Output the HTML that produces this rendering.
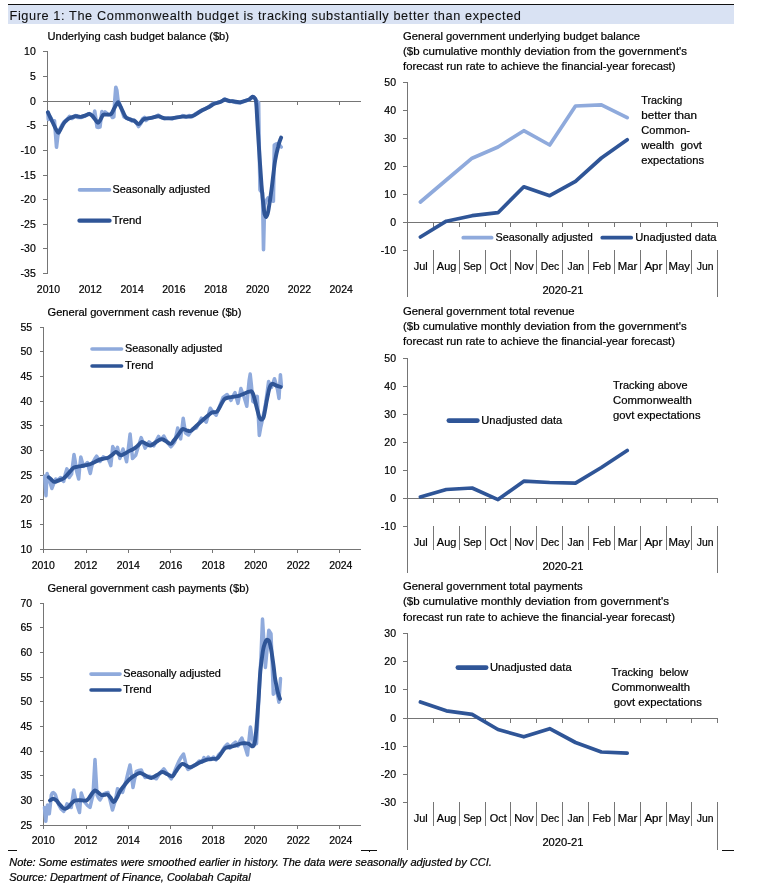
<!DOCTYPE html>
<html lang="en">
<head>
<meta charset="utf-8">
<title>Figure 1: The Commonwealth budget is tracking substantially better than expected</title>
<style>
html,body{margin:0;padding:0;background:#fff;}
body{width:759px;height:891px;overflow:hidden;}
svg{display:block;font-family:"Liberation Sans",sans-serif;}
svg line{shape-rendering:crispEdges;}
svg text{stroke:#000;stroke-width:0.2px;}
</style>
</head>
<body>
<svg width="759" height="891" viewBox="0 0 759 891">
<rect x="0" y="0" width="759" height="891" fill="#ffffff"/>
<rect x="8" y="4" width="726" height="20" fill="#D9E2F3"/>
<rect x="8" y="4" width="726" height="1" fill="#111"/>
<text x="9.5" y="19.8" font-size="12" text-anchor="start" fill="#111" textLength="512.0" lengthAdjust="spacingAndGlyphs" style="letter-spacing:0.55px;stroke-width:0.08px">Figure 1: The Commonwealth budget is tracking substantially better than expected</text>
<line x1="47.50" y1="52.00" x2="47.50" y2="274.00" stroke="#757575" stroke-width="1"/>
<line x1="43.00" y1="51.50" x2="48.00" y2="51.50" stroke="#757575" stroke-width="1"/>
<text x="35.8" y="55.1" font-size="10.5" text-anchor="end" fill="#000">10</text>
<line x1="43.00" y1="76.50" x2="48.00" y2="76.50" stroke="#757575" stroke-width="1"/>
<text x="35.8" y="80.1" font-size="10.5" text-anchor="end" fill="#000">5</text>
<line x1="43.00" y1="101.50" x2="48.00" y2="101.50" stroke="#757575" stroke-width="1"/>
<text x="35.8" y="105.1" font-size="10.5" text-anchor="end" fill="#000">0</text>
<line x1="43.00" y1="125.50" x2="48.00" y2="125.50" stroke="#757575" stroke-width="1"/>
<text x="35.8" y="129.1" font-size="10.5" text-anchor="end" fill="#000">-5</text>
<line x1="43.00" y1="150.50" x2="48.00" y2="150.50" stroke="#757575" stroke-width="1"/>
<text x="35.8" y="154.1" font-size="10.5" text-anchor="end" fill="#000">-10</text>
<line x1="43.00" y1="175.50" x2="48.00" y2="175.50" stroke="#757575" stroke-width="1"/>
<text x="35.8" y="179.1" font-size="10.5" text-anchor="end" fill="#000">-15</text>
<line x1="43.00" y1="199.50" x2="48.00" y2="199.50" stroke="#757575" stroke-width="1"/>
<text x="35.8" y="203.1" font-size="10.5" text-anchor="end" fill="#000">-20</text>
<line x1="43.00" y1="224.50" x2="48.00" y2="224.50" stroke="#757575" stroke-width="1"/>
<text x="35.8" y="228.1" font-size="10.5" text-anchor="end" fill="#000">-25</text>
<line x1="43.00" y1="248.50" x2="48.00" y2="248.50" stroke="#757575" stroke-width="1"/>
<text x="35.8" y="252.1" font-size="10.5" text-anchor="end" fill="#000">-30</text>
<line x1="43.00" y1="273.50" x2="48.00" y2="273.50" stroke="#757575" stroke-width="1"/>
<text x="35.8" y="277.1" font-size="10.5" text-anchor="end" fill="#000">-35</text>
<line x1="48.00" y1="101.50" x2="361.00" y2="101.50" stroke="#757575" stroke-width="1"/>
<line x1="47.50" y1="101.00" x2="47.50" y2="105.00" stroke="#757575" stroke-width="1"/>
<text x="48.5" y="292.6" font-size="10.5" text-anchor="middle" fill="#000" textLength="23.3" lengthAdjust="spacingAndGlyphs">2010</text>
<line x1="89.50" y1="101.00" x2="89.50" y2="105.00" stroke="#757575" stroke-width="1"/>
<text x="90.3" y="292.6" font-size="10.5" text-anchor="middle" fill="#000" textLength="23.3" lengthAdjust="spacingAndGlyphs">2012</text>
<line x1="130.50" y1="101.00" x2="130.50" y2="105.00" stroke="#757575" stroke-width="1"/>
<text x="132.1" y="292.6" font-size="10.5" text-anchor="middle" fill="#000" textLength="23.3" lengthAdjust="spacingAndGlyphs">2014</text>
<line x1="172.50" y1="101.00" x2="172.50" y2="105.00" stroke="#757575" stroke-width="1"/>
<text x="173.9" y="292.6" font-size="10.5" text-anchor="middle" fill="#000" textLength="23.3" lengthAdjust="spacingAndGlyphs">2016</text>
<line x1="214.50" y1="101.00" x2="214.50" y2="105.00" stroke="#757575" stroke-width="1"/>
<text x="215.8" y="292.6" font-size="10.5" text-anchor="middle" fill="#000" textLength="23.3" lengthAdjust="spacingAndGlyphs">2018</text>
<line x1="256.50" y1="101.00" x2="256.50" y2="105.00" stroke="#757575" stroke-width="1"/>
<text x="257.6" y="292.6" font-size="10.5" text-anchor="middle" fill="#000" textLength="23.3" lengthAdjust="spacingAndGlyphs">2020</text>
<line x1="297.50" y1="101.00" x2="297.50" y2="105.00" stroke="#757575" stroke-width="1"/>
<text x="299.4" y="292.6" font-size="10.5" text-anchor="middle" fill="#000" textLength="23.3" lengthAdjust="spacingAndGlyphs">2022</text>
<line x1="339.50" y1="101.00" x2="339.50" y2="105.00" stroke="#757575" stroke-width="1"/>
<text x="341.2" y="292.6" font-size="10.5" text-anchor="middle" fill="#000" textLength="23.3" lengthAdjust="spacingAndGlyphs">2024</text>
<text x="47.5" y="40.0" font-size="10.3" text-anchor="start" fill="#000" textLength="181.5" lengthAdjust="spacingAndGlyphs">Underlying cash budget balance ($b)</text>
<path d="M79.5,189.9 H109.5" fill="none" stroke="#8FAADC" stroke-width="3.6" stroke-linecap="round"/>
<path d="M79.5,220.7 H109.5" fill="none" stroke="#2F5597" stroke-width="4.3" stroke-linecap="round"/>
<text x="112.5" y="193.4" font-size="10.3" text-anchor="start" fill="#000" textLength="97.5" lengthAdjust="spacingAndGlyphs">Seasonally adjusted</text>
<text x="112.5" y="223.8" font-size="10.3" text-anchor="start" fill="#000" textLength="29.0" lengthAdjust="spacingAndGlyphs">Trend</text>
<polyline points="47.9,112.5 48.3,119.5 50.5,117.0 52.5,121.0 54.5,120.8 55.6,135.0 56.5,147.2 57.8,136.0 59.5,130.0 62.0,125.0 64.0,122.0 67.0,119.5 69.5,116.5 72.0,118.5 75.6,115.5 78.0,117.5 80.8,117.5 85.0,116.0 89.4,113.5 92.0,116.0 93.6,118.0 94.7,111.0 95.8,118.0 97.0,127.0 98.0,127.4 100.0,127.0 100.8,120.0 101.9,111.6 103.5,113.5 105.0,112.0 108.0,114.5 111.0,115.0 112.5,117.5 113.8,116.9 114.8,100.0 115.8,87.2 116.8,90.0 118.0,100.0 119.5,104.0 121.7,110.0 124.0,117.0 126.0,118.0 128.0,119.0 130.0,119.5 132.0,121.0 134.0,120.0 136.0,122.0 138.6,126.5 140.5,124.0 142.5,119.0 144.5,117.5 146.0,120.5 148.0,118.5 151.0,118.0 155.0,117.0 158.3,115.2 161.0,117.5 164.3,118.5 168.0,118.0 172.2,118.8 176.0,117.5 180.0,117.0 182.7,115.6 186.0,117.2 189.0,115.5 191.9,116.8 196.0,113.5 201.1,110.5 205.0,109.0 209.1,106.5 212.0,104.0 214.3,103.0 217.0,102.8 220.9,101.5 223.0,100.2 224.9,98.8 227.0,100.5 230.0,101.5 232.2,101.0 236.0,102.5 240.3,103.0 244.0,101.0 248.4,100.0 251.0,98.5 252.8,96.6 254.5,98.0 256.5,101.0 258.6,102.5 259.3,150.0 260.0,190.0 262.5,193.0 263.5,249.7 264.6,205.0 266.0,201.0 268.0,198.0 270.0,200.0 273.4,201.2 274.3,145.0 276.0,144.0 278.5,143.6 281.2,147.0" fill="none" stroke="#8FAADC" stroke-width="3.6" stroke-linejoin="round" stroke-linecap="round"/>
<path d="M47.9,112.3 C48.3,113.2 49.6,116.1 50.5,118.0 C51.4,119.9 52.3,121.7 53.2,123.5 C54.1,125.3 54.9,127.5 55.8,129.0 C56.7,130.5 57.5,132.8 58.4,132.7 C59.3,132.6 60.1,130.0 61.0,128.5 C61.9,127.0 62.9,124.8 63.7,123.5 C64.5,122.2 65.2,121.6 66.0,120.8 C66.8,120.0 67.3,119.5 68.3,118.9 C69.3,118.3 70.8,117.7 72.0,117.2 C73.2,116.8 74.6,116.3 75.6,116.2 C76.6,116.1 77.1,116.3 78.0,116.4 C78.9,116.5 79.6,117.0 80.8,116.9 C82.0,116.8 83.6,116.1 85.0,115.6 C86.4,115.1 88.1,113.9 89.4,114.0 C90.7,114.1 91.7,115.2 92.7,116.2 C93.7,117.2 94.4,118.7 95.3,119.8 C96.2,120.9 97.1,122.8 98.0,122.8 C98.9,122.8 99.7,120.8 100.6,119.5 C101.5,118.2 102.1,115.7 103.2,114.9 C104.3,114.1 105.7,114.8 107.0,114.6 C108.3,114.4 109.9,115.1 111.1,114.0 C112.3,112.9 113.3,109.9 114.4,108.0 C115.5,106.1 116.8,102.9 117.7,102.4 C118.6,101.9 119.0,103.9 119.7,105.0 C120.4,106.1 120.7,107.0 121.7,109.0 C122.7,111.0 124.5,115.3 125.6,116.9 C126.7,118.5 127.4,118.2 128.5,118.8 C129.6,119.3 131.2,119.8 132.2,120.2 C133.2,120.6 133.4,120.3 134.5,121.0 C135.6,121.7 137.4,124.0 138.6,124.1 C139.8,124.2 140.5,122.4 141.5,121.5 C142.5,120.6 142.9,119.5 144.5,118.9 C146.1,118.3 148.8,118.4 151.1,117.9 C153.4,117.5 156.1,116.2 158.3,116.2 C160.5,116.2 162.0,117.9 164.3,118.2 C166.6,118.5 169.1,118.5 172.2,118.2 C175.3,117.9 179.4,116.9 182.7,116.6 C186.0,116.3 188.8,117.1 191.9,116.2 C195.0,115.3 198.2,112.5 201.1,111.0 C204.0,109.5 206.9,108.2 209.1,107.0 C211.3,105.8 212.3,104.6 214.3,103.7 C216.3,102.8 219.1,102.4 220.9,101.7 C222.7,101.0 223.4,99.9 224.9,99.8 C226.4,99.7 228.8,100.9 230.0,101.1 C231.2,101.3 230.5,101.0 232.2,101.2 C233.9,101.4 237.6,102.4 240.3,102.2 C243.0,102.0 246.7,100.5 248.4,99.8 C250.2,99.1 250.1,98.5 250.8,98.0 C251.5,97.5 252.2,96.6 252.8,96.6 C253.4,96.6 254.0,97.1 254.6,98.0 C255.2,98.9 255.7,98.4 256.1,102.2 C256.6,106.0 256.9,114.6 257.3,121.0 C257.7,127.4 257.8,129.9 258.5,140.6 C259.2,151.3 260.6,173.2 261.5,185.0 C262.4,196.8 263.5,206.2 264.1,211.3 C264.7,216.4 264.9,214.6 265.2,215.5 C265.5,216.4 265.8,217.2 266.2,217.0 C266.6,216.8 267.0,215.8 267.4,214.5 C267.8,213.2 267.9,213.5 268.6,209.3 C269.3,205.1 270.5,197.2 271.6,189.1 C272.7,181.0 273.9,168.2 275.1,160.8 C276.3,153.4 277.7,148.5 278.7,144.6 C279.7,140.7 280.7,138.8 281.1,137.6" fill="none" stroke="#2F5597" stroke-width="3.9" stroke-linejoin="round" stroke-linecap="round"/>
<line x1="43.50" y1="327.00" x2="43.50" y2="549.00" stroke="#757575" stroke-width="1"/>
<line x1="40.00" y1="327.50" x2="44.00" y2="327.50" stroke="#757575" stroke-width="1"/>
<text x="32.1" y="331.1" font-size="10.5" text-anchor="end" fill="#000">55</text>
<line x1="40.00" y1="351.50" x2="44.00" y2="351.50" stroke="#757575" stroke-width="1"/>
<text x="32.1" y="355.1" font-size="10.5" text-anchor="end" fill="#000">50</text>
<line x1="40.00" y1="376.50" x2="44.00" y2="376.50" stroke="#757575" stroke-width="1"/>
<text x="32.1" y="380.1" font-size="10.5" text-anchor="end" fill="#000">45</text>
<line x1="40.00" y1="401.50" x2="44.00" y2="401.50" stroke="#757575" stroke-width="1"/>
<text x="32.1" y="405.1" font-size="10.5" text-anchor="end" fill="#000">40</text>
<line x1="40.00" y1="425.50" x2="44.00" y2="425.50" stroke="#757575" stroke-width="1"/>
<text x="32.1" y="429.1" font-size="10.5" text-anchor="end" fill="#000">35</text>
<line x1="40.00" y1="450.50" x2="44.00" y2="450.50" stroke="#757575" stroke-width="1"/>
<text x="32.1" y="454.1" font-size="10.5" text-anchor="end" fill="#000">30</text>
<line x1="40.00" y1="475.50" x2="44.00" y2="475.50" stroke="#757575" stroke-width="1"/>
<text x="32.1" y="479.1" font-size="10.5" text-anchor="end" fill="#000">25</text>
<line x1="40.00" y1="499.50" x2="44.00" y2="499.50" stroke="#757575" stroke-width="1"/>
<text x="32.1" y="503.1" font-size="10.5" text-anchor="end" fill="#000">20</text>
<line x1="40.00" y1="524.50" x2="44.00" y2="524.50" stroke="#757575" stroke-width="1"/>
<text x="32.1" y="528.1" font-size="10.5" text-anchor="end" fill="#000">15</text>
<line x1="40.00" y1="549.50" x2="44.00" y2="549.50" stroke="#757575" stroke-width="1"/>
<text x="32.1" y="553.1" font-size="10.5" text-anchor="end" fill="#000">10</text>
<line x1="44.00" y1="549.50" x2="361.00" y2="549.50" stroke="#757575" stroke-width="1"/>
<line x1="43.50" y1="549.00" x2="43.50" y2="553.00" stroke="#757575" stroke-width="1"/>
<text x="43.3" y="568.8" font-size="10.5" text-anchor="middle" fill="#000" textLength="23.3" lengthAdjust="spacingAndGlyphs">2010</text>
<line x1="86.50" y1="549.00" x2="86.50" y2="553.00" stroke="#757575" stroke-width="1"/>
<text x="85.8" y="568.8" font-size="10.5" text-anchor="middle" fill="#000" textLength="23.3" lengthAdjust="spacingAndGlyphs">2012</text>
<line x1="128.50" y1="549.00" x2="128.50" y2="553.00" stroke="#757575" stroke-width="1"/>
<text x="128.3" y="568.8" font-size="10.5" text-anchor="middle" fill="#000" textLength="23.3" lengthAdjust="spacingAndGlyphs">2014</text>
<line x1="170.50" y1="549.00" x2="170.50" y2="553.00" stroke="#757575" stroke-width="1"/>
<text x="170.8" y="568.8" font-size="10.5" text-anchor="middle" fill="#000" textLength="23.3" lengthAdjust="spacingAndGlyphs">2016</text>
<line x1="212.50" y1="549.00" x2="212.50" y2="553.00" stroke="#757575" stroke-width="1"/>
<text x="213.3" y="568.8" font-size="10.5" text-anchor="middle" fill="#000" textLength="23.3" lengthAdjust="spacingAndGlyphs">2018</text>
<line x1="254.50" y1="549.00" x2="254.50" y2="553.00" stroke="#757575" stroke-width="1"/>
<text x="255.8" y="568.8" font-size="10.5" text-anchor="middle" fill="#000" textLength="23.3" lengthAdjust="spacingAndGlyphs">2020</text>
<line x1="297.50" y1="549.00" x2="297.50" y2="553.00" stroke="#757575" stroke-width="1"/>
<text x="298.3" y="568.8" font-size="10.5" text-anchor="middle" fill="#000" textLength="23.3" lengthAdjust="spacingAndGlyphs">2022</text>
<line x1="339.50" y1="549.00" x2="339.50" y2="553.00" stroke="#757575" stroke-width="1"/>
<text x="340.8" y="568.8" font-size="10.5" text-anchor="middle" fill="#000" textLength="23.3" lengthAdjust="spacingAndGlyphs">2024</text>
<text x="47.5" y="316.1" font-size="10.3" text-anchor="start" fill="#000" textLength="194.0" lengthAdjust="spacingAndGlyphs">General government cash revenue ($b)</text>
<path d="M92.0,349.0 H121.6" fill="none" stroke="#8FAADC" stroke-width="3.6" stroke-linecap="round"/>
<path d="M92.0,366.0 H121.6" fill="none" stroke="#2F5597" stroke-width="3.5" stroke-linecap="round"/>
<text x="125.0" y="351.9" font-size="10.3" text-anchor="start" fill="#000" textLength="97.3" lengthAdjust="spacingAndGlyphs">Seasonally adjusted</text>
<text x="125.0" y="369.4" font-size="10.3" text-anchor="start" fill="#000" textLength="28.5" lengthAdjust="spacingAndGlyphs">Trend</text>
<polyline points="44.7,475.9 45.4,488.0 46.0,495.7 46.6,483.0 47.1,473.5 49.0,479.0 51.9,488.5 54.0,483.0 55.8,479.0 58.0,480.0 60.6,477.5 62.2,480.0 63.7,481.4 65.3,474.0 66.9,468.8 68.0,473.0 69.2,477.5 71.6,474.0 72.8,464.0 74.0,454.5 75.2,461.0 76.3,470.0 78.7,479.0 79.8,466.0 80.8,456.9 82.2,462.0 83.5,466.4 87.4,462.5 89.0,469.0 90.3,473.5 91.6,467.0 93.0,462.0 95.0,458.5 96.6,456.1 98.3,459.0 100.0,461.5 103.2,456.9 105.5,458.0 108.0,458.5 109.5,462.0 110.8,465.6 111.8,456.0 112.7,446.6 114.0,449.0 115.6,452.0 117.5,447.4 118.7,453.0 119.8,458.5 121.4,453.5 123.0,449.0 124.8,455.0 126.6,461.7 128.4,448.0 130.1,434.0 131.3,446.0 132.5,458.5 134.0,457.0 135.7,455.3 138.0,447.4 141.2,437.6 143.2,443.0 145.1,448.2 147.0,445.0 149.0,441.9 151.5,444.0 153.8,445.8 156.0,441.0 158.6,436.4 160.5,440.0 162.0,438.5 163.8,436.0 166.0,440.0 167.8,442.9 170.8,446.8 172.8,444.5 174.7,441.9 176.2,435.0 177.7,428.0 179.2,433.5 180.6,438.9 182.0,428.5 183.2,418.2 184.4,426.0 185.6,433.0 188.5,435.0 192.5,429.0 196.4,428.0 199.0,423.0 201.4,418.2 204.0,420.0 206.3,422.1 208.3,415.0 210.3,408.3 213.0,412.0 216.2,415.2 217.8,411.0 219.2,407.3 223.1,397.4 227.1,394.5 229.0,397.5 231.0,400.4 233.0,396.0 235.0,392.5 236.5,398.0 237.9,403.4 239.4,396.0 240.9,388.5 242.4,392.5 243.9,396.4 245.4,401.5 246.8,406.3 248.0,392.0 249.2,380.0 250.2,374.1 251.4,385.0 252.8,401.4 255.7,403.4 257.3,396.4 258.3,416.0 259.3,435.4 260.8,427.0 262.6,419.2 264.2,411.0 265.6,403.4 267.2,392.0 268.6,381.6 270.0,384.5 271.5,387.5 273.0,383.0 274.5,378.7 276.0,384.0 277.5,389.5 279.0,398.4 279.7,386.0 280.4,374.7 281.4,385.6" fill="none" stroke="#8FAADC" stroke-width="3.5" stroke-linejoin="round" stroke-linecap="round"/>
<path d="M48.7,477.2 C49.2,477.6 50.6,479.0 51.5,479.8 C52.4,480.6 53.0,481.8 54.2,481.9 C55.5,482.0 57.4,480.9 59.0,480.3 C60.6,479.7 62.1,479.5 63.7,478.3 C65.3,477.1 66.9,475.1 68.5,473.4 C70.1,471.7 71.8,469.1 73.2,468.0 C74.6,466.9 75.7,467.1 77.0,466.8 C78.3,466.5 79.6,466.4 81.1,466.1 C82.6,465.8 84.2,465.6 85.8,465.2 C87.4,464.8 89.1,464.5 90.6,464.0 C92.0,463.5 93.2,462.8 94.5,462.2 C95.8,461.6 97.1,460.7 98.5,460.1 C99.9,459.5 101.4,459.2 103.0,458.8 C104.6,458.4 106.5,458.3 108.0,457.7 C109.5,457.1 110.7,456.0 112.0,455.0 C113.3,454.0 114.8,452.1 115.9,451.9 C117.0,451.7 117.7,453.3 118.6,453.9 C119.5,454.5 120.3,455.4 121.4,455.3 C122.5,455.2 123.8,454.1 125.0,453.5 C126.2,452.9 127.4,452.0 128.5,451.4 C129.6,450.8 130.6,450.4 131.7,449.9 C132.8,449.4 133.8,449.0 134.9,448.2 C136.0,447.4 137.3,446.1 138.5,445.0 C139.7,443.9 140.7,442.1 142.0,441.9 C143.3,441.7 145.0,443.4 146.4,444.0 C147.8,444.6 149.2,445.8 150.7,445.5 C152.2,445.2 153.9,443.5 155.5,442.5 C157.1,441.5 158.8,440.0 160.0,439.5 C161.2,439.0 161.7,438.9 162.8,439.3 C163.9,439.7 165.5,441.0 166.8,441.8 C168.1,442.6 169.6,444.1 170.8,443.9 C172.0,443.7 172.8,441.8 173.8,440.6 C174.8,439.5 175.7,438.3 176.7,437.0 C177.7,435.7 178.7,434.1 179.7,432.8 C180.7,431.5 181.5,429.4 182.6,429.0 C183.7,428.6 185.2,430.0 186.5,430.3 C187.8,430.6 189.1,431.5 190.5,431.0 C191.9,430.5 193.5,428.5 195.0,427.2 C196.5,425.9 197.7,424.7 199.4,423.1 C201.1,421.5 203.4,419.5 205.4,417.8 C207.4,416.1 209.8,413.7 211.3,412.8 C212.8,411.9 213.2,412.4 214.2,412.2 C215.2,411.9 216.1,412.4 217.2,411.3 C218.3,410.2 219.4,407.5 220.6,405.5 C221.8,403.5 223.1,400.6 224.1,399.4 C225.1,398.2 225.7,398.4 226.5,398.1 C227.3,397.8 227.8,397.6 229.0,397.4 C230.2,397.2 232.3,397.0 234.0,396.7 C235.7,396.4 237.4,396.2 238.9,395.8 C240.4,395.4 241.5,394.8 242.8,394.2 C244.1,393.6 245.7,392.9 246.8,392.5 C247.9,392.1 248.5,391.9 249.3,391.7 C250.1,391.5 251.1,391.0 251.8,391.5 C252.5,392.0 252.8,393.2 253.3,394.5 C253.8,395.8 254.1,397.2 254.7,399.4 C255.3,401.6 256.0,404.9 256.7,407.5 C257.4,410.1 258.2,413.4 258.7,415.2 C259.2,417.0 259.5,417.6 259.9,418.3 C260.3,419.0 260.7,419.5 261.1,419.6 C261.5,419.7 262.0,419.4 262.4,419.0 C262.8,418.6 263.2,418.7 263.6,417.2 C264.1,415.7 264.6,412.6 265.1,410.0 C265.6,407.4 266.1,404.1 266.6,401.4 C267.1,398.7 267.6,396.3 268.1,394.0 C268.6,391.7 269.1,389.0 269.6,387.5 C270.1,386.0 270.5,385.4 271.0,384.8 C271.5,384.2 271.9,383.6 272.5,383.6 C273.1,383.6 273.8,384.3 274.5,384.6 C275.2,384.9 275.4,385.2 276.5,385.6 C277.6,386.0 280.1,386.8 280.8,387.0" fill="none" stroke="#2F5597" stroke-width="3.9" stroke-linejoin="round" stroke-linecap="round"/>
<line x1="43.50" y1="603.00" x2="43.50" y2="825.00" stroke="#757575" stroke-width="1"/>
<line x1="40.00" y1="603.50" x2="44.00" y2="603.50" stroke="#757575" stroke-width="1"/>
<text x="32.1" y="607.1" font-size="10.5" text-anchor="end" fill="#000">70</text>
<line x1="40.00" y1="627.50" x2="44.00" y2="627.50" stroke="#757575" stroke-width="1"/>
<text x="32.1" y="631.1" font-size="10.5" text-anchor="end" fill="#000">65</text>
<line x1="40.00" y1="652.50" x2="44.00" y2="652.50" stroke="#757575" stroke-width="1"/>
<text x="32.1" y="656.1" font-size="10.5" text-anchor="end" fill="#000">60</text>
<line x1="40.00" y1="677.50" x2="44.00" y2="677.50" stroke="#757575" stroke-width="1"/>
<text x="32.1" y="681.1" font-size="10.5" text-anchor="end" fill="#000">55</text>
<line x1="40.00" y1="701.50" x2="44.00" y2="701.50" stroke="#757575" stroke-width="1"/>
<text x="32.1" y="705.1" font-size="10.5" text-anchor="end" fill="#000">50</text>
<line x1="40.00" y1="726.50" x2="44.00" y2="726.50" stroke="#757575" stroke-width="1"/>
<text x="32.1" y="730.1" font-size="10.5" text-anchor="end" fill="#000">45</text>
<line x1="40.00" y1="751.50" x2="44.00" y2="751.50" stroke="#757575" stroke-width="1"/>
<text x="32.1" y="755.1" font-size="10.5" text-anchor="end" fill="#000">40</text>
<line x1="40.00" y1="775.50" x2="44.00" y2="775.50" stroke="#757575" stroke-width="1"/>
<text x="32.1" y="779.1" font-size="10.5" text-anchor="end" fill="#000">35</text>
<line x1="40.00" y1="800.50" x2="44.00" y2="800.50" stroke="#757575" stroke-width="1"/>
<text x="32.1" y="804.1" font-size="10.5" text-anchor="end" fill="#000">30</text>
<line x1="40.00" y1="825.50" x2="44.00" y2="825.50" stroke="#757575" stroke-width="1"/>
<text x="32.1" y="829.1" font-size="10.5" text-anchor="end" fill="#000">25</text>
<line x1="44.00" y1="825.50" x2="361.00" y2="825.50" stroke="#757575" stroke-width="1"/>
<line x1="43.50" y1="825.00" x2="43.50" y2="829.00" stroke="#757575" stroke-width="1"/>
<text x="43.3" y="843.9" font-size="10.5" text-anchor="middle" fill="#000" textLength="23.3" lengthAdjust="spacingAndGlyphs">2010</text>
<line x1="86.50" y1="825.00" x2="86.50" y2="829.00" stroke="#757575" stroke-width="1"/>
<text x="85.8" y="843.9" font-size="10.5" text-anchor="middle" fill="#000" textLength="23.3" lengthAdjust="spacingAndGlyphs">2012</text>
<line x1="128.50" y1="825.00" x2="128.50" y2="829.00" stroke="#757575" stroke-width="1"/>
<text x="128.3" y="843.9" font-size="10.5" text-anchor="middle" fill="#000" textLength="23.3" lengthAdjust="spacingAndGlyphs">2014</text>
<line x1="170.50" y1="825.00" x2="170.50" y2="829.00" stroke="#757575" stroke-width="1"/>
<text x="170.8" y="843.9" font-size="10.5" text-anchor="middle" fill="#000" textLength="23.3" lengthAdjust="spacingAndGlyphs">2016</text>
<line x1="212.50" y1="825.00" x2="212.50" y2="829.00" stroke="#757575" stroke-width="1"/>
<text x="213.3" y="843.9" font-size="10.5" text-anchor="middle" fill="#000" textLength="23.3" lengthAdjust="spacingAndGlyphs">2018</text>
<line x1="254.50" y1="825.00" x2="254.50" y2="829.00" stroke="#757575" stroke-width="1"/>
<text x="255.8" y="843.9" font-size="10.5" text-anchor="middle" fill="#000" textLength="23.3" lengthAdjust="spacingAndGlyphs">2020</text>
<line x1="297.50" y1="825.00" x2="297.50" y2="829.00" stroke="#757575" stroke-width="1"/>
<text x="298.3" y="843.9" font-size="10.5" text-anchor="middle" fill="#000" textLength="23.3" lengthAdjust="spacingAndGlyphs">2022</text>
<line x1="339.50" y1="825.00" x2="339.50" y2="829.00" stroke="#757575" stroke-width="1"/>
<text x="340.8" y="843.9" font-size="10.5" text-anchor="middle" fill="#000" textLength="23.3" lengthAdjust="spacingAndGlyphs">2024</text>
<text x="47.5" y="592.2" font-size="10.3" text-anchor="start" fill="#000" textLength="201.5" lengthAdjust="spacingAndGlyphs">General government cash payments ($b)</text>
<path d="M91.0,674.1 H120.0" fill="none" stroke="#8FAADC" stroke-width="3.6" stroke-linecap="round"/>
<path d="M91.0,689.9 H120.0" fill="none" stroke="#2F5597" stroke-width="3.5" stroke-linecap="round"/>
<text x="123.2" y="677.2" font-size="10.3" text-anchor="start" fill="#000" textLength="97.7" lengthAdjust="spacingAndGlyphs">Seasonally adjusted</text>
<text x="123.2" y="693.1" font-size="10.3" text-anchor="start" fill="#000" textLength="28.5" lengthAdjust="spacingAndGlyphs">Trend</text>
<polyline points="44.5,807.5 45.1,815.0 45.8,821.3 46.7,812.0 47.5,805.0 48.4,809.5 49.3,813.8 50.3,805.0 51.3,795.0 52.3,793.0 53.3,792.5 54.5,793.5 55.5,795.0 57.0,800.0 58.8,805.0 61.0,809.0 63.8,811.3 65.5,808.0 67.0,803.8 69.0,805.8 71.3,807.5 72.6,798.0 73.8,790.0 75.0,796.0 76.3,802.5 78.0,808.0 79.5,812.5 80.4,802.0 81.3,793.0 83.0,798.0 85.0,802.5 87.5,805.5 90.0,807.5 91.5,801.0 93.0,795.0 94.0,777.0 95.0,759.5 96.0,777.0 97.0,795.0 98.5,798.0 100.0,800.0 102.0,796.5 103.8,793.8 106.0,793.0 108.0,792.5 110.3,801.0 112.5,810.0 114.0,805.0 115.5,800.0 116.5,794.0 117.5,788.8 120.0,790.5 122.5,792.5 124.5,786.0 126.3,780.0 128.2,772.0 130.0,765.0 131.5,776.0 133.0,787.5 134.6,779.0 136.3,771.3 138.8,770.5 141.3,770.0 143.0,774.0 145.0,777.5 147.5,777.0 150.0,776.3 153.0,777.5 156.3,778.8 160.0,773.0 163.8,768.8 167.5,774.0 171.3,778.8 174.0,773.0 176.0,768.0 178.8,761.3 181.3,757.0 183.5,754.0 185.0,760.0 186.3,766.3 188.0,769.5 190.5,768.0 193.5,766.0 196.0,764.5 199.2,761.0 202.0,762.0 204.0,757.5 206.0,760.0 208.2,757.0 211.0,759.5 213.5,757.0 216.0,760.0 218.5,755.0 221.5,752.0 225.0,746.5 227.5,744.0 230.0,748.0 233.0,744.0 235.5,742.0 238.0,746.0 240.0,741.0 241.9,738.0 244.0,744.0 246.0,750.0 247.5,755.0 249.0,740.0 250.4,726.9 252.0,737.0 253.5,743.0 256.5,743.7 258.7,701.0 261.0,656.0 262.5,619.1 264.0,643.0 265.4,667.4 267.1,649.0 268.8,630.3 271.0,633.7 272.2,664.0 273.3,694.3 276.6,689.8 278.9,702.2 279.7,690.0 280.5,678.6" fill="none" stroke="#8FAADC" stroke-width="3.5" stroke-linejoin="round" stroke-linecap="round"/>
<path d="M50.0,800.5 C50.3,800.3 51.2,799.5 51.8,799.2 C52.4,798.9 53.0,798.6 53.8,798.8 C54.6,799.0 55.5,799.6 56.5,800.5 C57.5,801.4 58.5,803.1 59.5,804.3 C60.5,805.5 61.6,806.9 62.5,807.6 C63.4,808.4 64.2,808.8 65.0,808.8 C65.8,808.8 66.7,808.4 67.5,807.8 C68.3,807.2 69.2,806.1 70.0,805.2 C70.8,804.3 71.7,803.1 72.5,802.3 C73.3,801.5 73.8,800.9 75.0,800.5 C76.2,800.1 78.1,800.2 80.0,800.2 C81.9,800.2 84.8,800.9 86.3,800.5 C87.8,800.1 88.0,799.2 89.0,798.0 C90.0,796.8 91.0,794.8 92.0,793.5 C93.0,792.2 94.0,790.7 95.0,790.5 C96.0,790.3 97.0,791.5 98.0,792.3 C99.0,793.0 100.2,794.6 101.3,795.0 C102.4,795.4 103.5,795.0 104.5,794.9 C105.5,794.8 106.5,794.1 107.5,794.5 C108.5,794.9 109.5,796.2 110.5,797.5 C111.5,798.8 112.7,802.0 113.8,802.0 C114.9,802.0 116.0,799.3 117.0,797.5 C118.0,795.7 118.7,793.5 120.0,791.3 C121.3,789.1 123.3,786.6 125.0,784.5 C126.7,782.4 128.3,780.3 130.0,778.8 C131.7,777.3 133.3,776.3 135.0,775.3 C136.7,774.3 138.2,773.0 140.0,773.0 C141.8,773.0 143.6,774.7 145.5,775.5 C147.4,776.3 149.4,778.1 151.3,778.0 C153.2,777.9 155.1,776.0 157.0,775.0 C158.9,774.0 160.8,772.1 162.5,772.0 C164.2,771.9 165.8,773.6 167.5,774.3 C169.2,775.0 171.2,776.7 172.5,776.3 C173.8,775.9 174.5,773.3 175.6,771.8 C176.7,770.2 177.9,768.3 179.0,767.0 C180.1,765.7 181.2,764.1 182.4,763.9 C183.6,763.7 185.0,765.0 186.3,765.6 C187.6,766.2 188.8,767.4 190.2,767.3 C191.6,767.2 193.2,766.0 194.7,765.2 C196.2,764.5 197.7,763.5 199.2,762.8 C200.7,762.1 202.2,761.5 203.7,760.9 C205.2,760.3 206.7,759.7 208.2,759.4 C209.7,759.1 211.2,759.1 212.7,758.9 C214.2,758.7 215.8,759.2 217.2,758.3 C218.6,757.4 219.8,755.2 221.1,753.5 C222.4,751.8 223.6,749.3 225.0,748.2 C226.4,747.1 228.0,747.4 229.5,747.0 C231.0,746.6 232.6,746.4 234.0,746.0 C235.4,745.6 236.7,745.0 238.0,744.5 C239.3,744.0 240.7,743.5 241.9,743.3 C243.1,743.1 244.1,743.2 245.2,743.3 C246.3,743.4 247.7,743.4 248.6,743.7 C249.5,744.1 250.1,745.0 250.8,745.4 C251.5,745.8 252.0,746.5 252.6,746.4 C253.2,746.2 253.8,745.7 254.2,744.5 C254.6,743.3 254.9,742.1 255.3,739.2 C255.7,736.3 256.1,731.5 256.5,727.0 C256.9,722.5 257.2,718.1 257.6,712.3 C258.0,706.5 258.6,698.7 259.0,692.0 C259.4,685.3 259.8,677.4 260.3,671.9 C260.8,666.4 261.3,662.8 261.8,659.0 C262.3,655.2 262.7,652.0 263.2,649.4 C263.7,646.8 264.3,644.8 264.9,643.2 C265.5,641.6 266.1,640.5 266.6,640.0 C267.1,639.5 267.6,639.8 268.0,640.0 C268.4,640.2 268.8,640.2 269.3,641.5 C269.8,642.8 270.3,645.1 270.8,647.5 C271.3,649.9 271.7,652.9 272.2,656.1 C272.7,659.4 273.2,663.2 273.7,667.0 C274.2,670.8 274.6,675.4 275.1,678.6 C275.6,681.8 276.1,683.8 276.5,686.0 C276.9,688.2 277.2,690.0 277.8,692.1 C278.4,694.2 279.6,697.7 280.0,698.8" fill="none" stroke="#2F5597" stroke-width="3.9" stroke-linejoin="round" stroke-linecap="round"/>
<line x1="407.50" y1="82.00" x2="407.50" y2="297.00" stroke="#757575" stroke-width="1"/>
<line x1="403.00" y1="82.50" x2="408.00" y2="82.50" stroke="#757575" stroke-width="1"/>
<text x="396.0" y="85.8" font-size="10.5" text-anchor="end" fill="#000">50</text>
<line x1="403.00" y1="110.50" x2="408.00" y2="110.50" stroke="#757575" stroke-width="1"/>
<text x="396.0" y="113.8" font-size="10.5" text-anchor="end" fill="#000">40</text>
<line x1="403.00" y1="138.50" x2="408.00" y2="138.50" stroke="#757575" stroke-width="1"/>
<text x="396.0" y="141.8" font-size="10.5" text-anchor="end" fill="#000">30</text>
<line x1="403.00" y1="166.50" x2="408.00" y2="166.50" stroke="#757575" stroke-width="1"/>
<text x="396.0" y="169.8" font-size="10.5" text-anchor="end" fill="#000">20</text>
<line x1="403.00" y1="194.50" x2="408.00" y2="194.50" stroke="#757575" stroke-width="1"/>
<text x="396.0" y="197.8" font-size="10.5" text-anchor="end" fill="#000">10</text>
<line x1="403.00" y1="222.50" x2="408.00" y2="222.50" stroke="#757575" stroke-width="1"/>
<text x="396.0" y="225.8" font-size="10.5" text-anchor="end" fill="#000">0</text>
<line x1="403.00" y1="250.50" x2="408.00" y2="250.50" stroke="#757575" stroke-width="1"/>
<text x="396.0" y="253.8" font-size="10.5" text-anchor="end" fill="#000">-10</text>
<line x1="408.00" y1="222.50" x2="718.00" y2="222.50" stroke="#757575" stroke-width="1"/>
<line x1="433.50" y1="222.00" x2="433.50" y2="227.00" stroke="#757575" stroke-width="1"/>
<line x1="433.50" y1="250.00" x2="433.50" y2="274.00" stroke="#757575" stroke-width="1"/>
<line x1="459.50" y1="222.00" x2="459.50" y2="227.00" stroke="#757575" stroke-width="1"/>
<line x1="459.50" y1="250.00" x2="459.50" y2="274.00" stroke="#757575" stroke-width="1"/>
<line x1="485.50" y1="222.00" x2="485.50" y2="227.00" stroke="#757575" stroke-width="1"/>
<line x1="485.50" y1="250.00" x2="485.50" y2="274.00" stroke="#757575" stroke-width="1"/>
<line x1="510.50" y1="222.00" x2="510.50" y2="227.00" stroke="#757575" stroke-width="1"/>
<line x1="510.50" y1="250.00" x2="510.50" y2="274.00" stroke="#757575" stroke-width="1"/>
<line x1="536.50" y1="222.00" x2="536.50" y2="227.00" stroke="#757575" stroke-width="1"/>
<line x1="536.50" y1="250.00" x2="536.50" y2="274.00" stroke="#757575" stroke-width="1"/>
<line x1="562.50" y1="222.00" x2="562.50" y2="227.00" stroke="#757575" stroke-width="1"/>
<line x1="562.50" y1="250.00" x2="562.50" y2="274.00" stroke="#757575" stroke-width="1"/>
<line x1="588.50" y1="222.00" x2="588.50" y2="227.00" stroke="#757575" stroke-width="1"/>
<line x1="588.50" y1="250.00" x2="588.50" y2="274.00" stroke="#757575" stroke-width="1"/>
<line x1="614.50" y1="222.00" x2="614.50" y2="227.00" stroke="#757575" stroke-width="1"/>
<line x1="614.50" y1="250.00" x2="614.50" y2="274.00" stroke="#757575" stroke-width="1"/>
<line x1="640.50" y1="222.00" x2="640.50" y2="227.00" stroke="#757575" stroke-width="1"/>
<line x1="640.50" y1="250.00" x2="640.50" y2="274.00" stroke="#757575" stroke-width="1"/>
<line x1="666.50" y1="222.00" x2="666.50" y2="227.00" stroke="#757575" stroke-width="1"/>
<line x1="666.50" y1="250.00" x2="666.50" y2="274.00" stroke="#757575" stroke-width="1"/>
<line x1="691.50" y1="222.00" x2="691.50" y2="227.00" stroke="#757575" stroke-width="1"/>
<line x1="691.50" y1="250.00" x2="691.50" y2="274.00" stroke="#757575" stroke-width="1"/>
<line x1="717.50" y1="222.00" x2="717.50" y2="227.00" stroke="#757575" stroke-width="1"/>
<line x1="717.50" y1="250.00" x2="717.50" y2="297.00" stroke="#757575" stroke-width="1"/>
<text x="420.7" y="269.6" font-size="10.3" text-anchor="middle" fill="#000" textLength="14.0" lengthAdjust="spacingAndGlyphs">Jul</text>
<text x="446.6" y="269.6" font-size="10.3" text-anchor="middle" fill="#000" textLength="19.5" lengthAdjust="spacingAndGlyphs">Aug</text>
<text x="472.4" y="269.6" font-size="10.3" text-anchor="middle" fill="#000" textLength="18.5" lengthAdjust="spacingAndGlyphs">Sep</text>
<text x="498.3" y="269.6" font-size="10.3" text-anchor="middle" fill="#000" textLength="17.0" lengthAdjust="spacingAndGlyphs">Oct</text>
<text x="524.1" y="269.6" font-size="10.3" text-anchor="middle" fill="#000" textLength="19.5" lengthAdjust="spacingAndGlyphs">Nov</text>
<text x="550.0" y="269.6" font-size="10.3" text-anchor="middle" fill="#000" textLength="18.5" lengthAdjust="spacingAndGlyphs">Dec</text>
<text x="575.8" y="269.6" font-size="10.3" text-anchor="middle" fill="#000" textLength="16.5" lengthAdjust="spacingAndGlyphs">Jan</text>
<text x="601.7" y="269.6" font-size="10.3" text-anchor="middle" fill="#000" textLength="18.5" lengthAdjust="spacingAndGlyphs">Feb</text>
<text x="627.5" y="269.6" font-size="10.3" text-anchor="middle" fill="#000" textLength="19.5" lengthAdjust="spacingAndGlyphs">Mar</text>
<text x="653.4" y="269.6" font-size="10.3" text-anchor="middle" fill="#000" textLength="18.0" lengthAdjust="spacingAndGlyphs">Apr</text>
<text x="679.2" y="269.6" font-size="10.3" text-anchor="middle" fill="#000" textLength="21.5" lengthAdjust="spacingAndGlyphs">May</text>
<text x="705.1" y="269.6" font-size="10.3" text-anchor="middle" fill="#000" textLength="16.7" lengthAdjust="spacingAndGlyphs">Jun</text>
<text x="562.9" y="293.8" font-size="10.5" text-anchor="middle" fill="#000" textLength="41.0" lengthAdjust="spacingAndGlyphs">2020-21</text>
<text x="403.0" y="40.3" font-size="10.3" text-anchor="start" fill="#000" textLength="237.0" lengthAdjust="spacingAndGlyphs">General government underlying budget balance</text>
<text x="403.0" y="55.2" font-size="10.3" text-anchor="start" fill="#000" textLength="284.0" lengthAdjust="spacingAndGlyphs">($b cumulative monthly deviation from the government's</text>
<text x="403.0" y="70.0" font-size="10.3" text-anchor="start" fill="#000" textLength="272.5" lengthAdjust="spacingAndGlyphs">forecast run rate to achieve the financial-year forecast)</text>
<polyline points="420.4,202.0 446.3,180.0 472.1,158.2 498.0,147.0 523.8,130.7 549.7,145.0 575.5,106.0 601.4,104.8 627.2,117.6" fill="none" stroke="#8FAADC" stroke-width="3.7" stroke-linejoin="round" stroke-linecap="round"/>
<polyline points="420.4,237.0 446.3,221.2 472.1,215.7 498.0,212.7 523.8,186.8 549.7,195.7 575.5,181.3 601.4,158.0 627.2,139.7" fill="none" stroke="#2F5597" stroke-width="3.7" stroke-linejoin="round" stroke-linecap="round"/>
<path d="M463.3,237.7 H491.6" fill="none" stroke="#8FAADC" stroke-width="3.8" stroke-linecap="round"/>
<text x="495.5" y="241.0" font-size="10.3" text-anchor="start" fill="#000" textLength="97.3" lengthAdjust="spacingAndGlyphs">Seasonally adjusted</text>
<path d="M602.3,237.7 H631.2" fill="none" stroke="#2F5597" stroke-width="3.8" stroke-linecap="round"/>
<text x="635.2" y="241.0" font-size="10.3" text-anchor="start" fill="#000" textLength="81.3" lengthAdjust="spacingAndGlyphs">Unadjusted data</text>
<text x="641.3" y="104.2" font-size="10.3" text-anchor="start" fill="#000" textLength="41.0" lengthAdjust="spacingAndGlyphs">Tracking</text>
<text x="641.3" y="119.2" font-size="10.3" text-anchor="start" fill="#000" textLength="55.7" lengthAdjust="spacingAndGlyphs">better than</text>
<text x="641.3" y="134.2" font-size="10.3" text-anchor="start" fill="#000" textLength="48.7" lengthAdjust="spacingAndGlyphs">Common-</text>
<text x="641.3" y="149.2" font-size="10.3" text-anchor="start" fill="#000" textLength="60.7" lengthAdjust="spacingAndGlyphs">wealth  govt</text>
<text x="641.3" y="164.0" font-size="10.3" text-anchor="start" fill="#000" textLength="62.7" lengthAdjust="spacingAndGlyphs">expectations</text>
<line x1="407.50" y1="359.00" x2="407.50" y2="573.00" stroke="#757575" stroke-width="1"/>
<line x1="403.00" y1="358.50" x2="408.00" y2="358.50" stroke="#757575" stroke-width="1"/>
<text x="396.0" y="361.8" font-size="10.5" text-anchor="end" fill="#000">50</text>
<line x1="403.00" y1="386.50" x2="408.00" y2="386.50" stroke="#757575" stroke-width="1"/>
<text x="396.0" y="389.8" font-size="10.5" text-anchor="end" fill="#000">40</text>
<line x1="403.00" y1="414.50" x2="408.00" y2="414.50" stroke="#757575" stroke-width="1"/>
<text x="396.0" y="417.8" font-size="10.5" text-anchor="end" fill="#000">30</text>
<line x1="403.00" y1="442.50" x2="408.00" y2="442.50" stroke="#757575" stroke-width="1"/>
<text x="396.0" y="445.8" font-size="10.5" text-anchor="end" fill="#000">20</text>
<line x1="403.00" y1="470.50" x2="408.00" y2="470.50" stroke="#757575" stroke-width="1"/>
<text x="396.0" y="473.8" font-size="10.5" text-anchor="end" fill="#000">10</text>
<line x1="403.00" y1="498.50" x2="408.00" y2="498.50" stroke="#757575" stroke-width="1"/>
<text x="396.0" y="501.8" font-size="10.5" text-anchor="end" fill="#000">0</text>
<line x1="403.00" y1="526.50" x2="408.00" y2="526.50" stroke="#757575" stroke-width="1"/>
<text x="396.0" y="529.8" font-size="10.5" text-anchor="end" fill="#000">-10</text>
<line x1="408.00" y1="498.50" x2="718.00" y2="498.50" stroke="#757575" stroke-width="1"/>
<line x1="433.50" y1="498.00" x2="433.50" y2="503.00" stroke="#757575" stroke-width="1"/>
<line x1="433.50" y1="526.00" x2="433.50" y2="550.00" stroke="#757575" stroke-width="1"/>
<line x1="459.50" y1="498.00" x2="459.50" y2="503.00" stroke="#757575" stroke-width="1"/>
<line x1="459.50" y1="526.00" x2="459.50" y2="550.00" stroke="#757575" stroke-width="1"/>
<line x1="485.50" y1="498.00" x2="485.50" y2="503.00" stroke="#757575" stroke-width="1"/>
<line x1="485.50" y1="526.00" x2="485.50" y2="550.00" stroke="#757575" stroke-width="1"/>
<line x1="510.50" y1="498.00" x2="510.50" y2="503.00" stroke="#757575" stroke-width="1"/>
<line x1="510.50" y1="526.00" x2="510.50" y2="550.00" stroke="#757575" stroke-width="1"/>
<line x1="536.50" y1="498.00" x2="536.50" y2="503.00" stroke="#757575" stroke-width="1"/>
<line x1="536.50" y1="526.00" x2="536.50" y2="550.00" stroke="#757575" stroke-width="1"/>
<line x1="562.50" y1="498.00" x2="562.50" y2="503.00" stroke="#757575" stroke-width="1"/>
<line x1="562.50" y1="526.00" x2="562.50" y2="550.00" stroke="#757575" stroke-width="1"/>
<line x1="588.50" y1="498.00" x2="588.50" y2="503.00" stroke="#757575" stroke-width="1"/>
<line x1="588.50" y1="526.00" x2="588.50" y2="550.00" stroke="#757575" stroke-width="1"/>
<line x1="614.50" y1="498.00" x2="614.50" y2="503.00" stroke="#757575" stroke-width="1"/>
<line x1="614.50" y1="526.00" x2="614.50" y2="550.00" stroke="#757575" stroke-width="1"/>
<line x1="640.50" y1="498.00" x2="640.50" y2="503.00" stroke="#757575" stroke-width="1"/>
<line x1="640.50" y1="526.00" x2="640.50" y2="550.00" stroke="#757575" stroke-width="1"/>
<line x1="666.50" y1="498.00" x2="666.50" y2="503.00" stroke="#757575" stroke-width="1"/>
<line x1="666.50" y1="526.00" x2="666.50" y2="550.00" stroke="#757575" stroke-width="1"/>
<line x1="691.50" y1="498.00" x2="691.50" y2="503.00" stroke="#757575" stroke-width="1"/>
<line x1="691.50" y1="526.00" x2="691.50" y2="550.00" stroke="#757575" stroke-width="1"/>
<line x1="717.50" y1="498.00" x2="717.50" y2="503.00" stroke="#757575" stroke-width="1"/>
<line x1="717.50" y1="526.00" x2="717.50" y2="573.00" stroke="#757575" stroke-width="1"/>
<text x="420.7" y="546.3" font-size="10.3" text-anchor="middle" fill="#000" textLength="14.0" lengthAdjust="spacingAndGlyphs">Jul</text>
<text x="446.6" y="546.3" font-size="10.3" text-anchor="middle" fill="#000" textLength="19.5" lengthAdjust="spacingAndGlyphs">Aug</text>
<text x="472.4" y="546.3" font-size="10.3" text-anchor="middle" fill="#000" textLength="18.5" lengthAdjust="spacingAndGlyphs">Sep</text>
<text x="498.3" y="546.3" font-size="10.3" text-anchor="middle" fill="#000" textLength="17.0" lengthAdjust="spacingAndGlyphs">Oct</text>
<text x="524.1" y="546.3" font-size="10.3" text-anchor="middle" fill="#000" textLength="19.5" lengthAdjust="spacingAndGlyphs">Nov</text>
<text x="550.0" y="546.3" font-size="10.3" text-anchor="middle" fill="#000" textLength="18.5" lengthAdjust="spacingAndGlyphs">Dec</text>
<text x="575.8" y="546.3" font-size="10.3" text-anchor="middle" fill="#000" textLength="16.5" lengthAdjust="spacingAndGlyphs">Jan</text>
<text x="601.7" y="546.3" font-size="10.3" text-anchor="middle" fill="#000" textLength="18.5" lengthAdjust="spacingAndGlyphs">Feb</text>
<text x="627.5" y="546.3" font-size="10.3" text-anchor="middle" fill="#000" textLength="19.5" lengthAdjust="spacingAndGlyphs">Mar</text>
<text x="653.4" y="546.3" font-size="10.3" text-anchor="middle" fill="#000" textLength="18.0" lengthAdjust="spacingAndGlyphs">Apr</text>
<text x="679.2" y="546.3" font-size="10.3" text-anchor="middle" fill="#000" textLength="21.5" lengthAdjust="spacingAndGlyphs">May</text>
<text x="705.1" y="546.3" font-size="10.3" text-anchor="middle" fill="#000" textLength="16.7" lengthAdjust="spacingAndGlyphs">Jun</text>
<text x="562.9" y="569.6" font-size="10.5" text-anchor="middle" fill="#000" textLength="41.0" lengthAdjust="spacingAndGlyphs">2020-21</text>
<text x="403.0" y="315.3" font-size="10.3" text-anchor="start" fill="#000" textLength="171.6" lengthAdjust="spacingAndGlyphs">General government total revenue</text>
<text x="403.0" y="330.2" font-size="10.3" text-anchor="start" fill="#000" textLength="283.7" lengthAdjust="spacingAndGlyphs">($b cumulative monthly deviation from the government's</text>
<text x="403.0" y="345.2" font-size="10.3" text-anchor="start" fill="#000" textLength="272.0" lengthAdjust="spacingAndGlyphs">forecast run rate to achieve the financial-year forecast)</text>
<polyline points="420.4,497.0 446.3,489.5 472.1,488.0 498.0,499.6 523.8,481.2 549.7,482.5 575.5,483.2 601.4,467.5 627.2,450.5" fill="none" stroke="#2F5597" stroke-width="3.7" stroke-linejoin="round" stroke-linecap="round"/>
<path d="M448.8,420.6 H477.4" fill="none" stroke="#2F5597" stroke-width="4.6" stroke-linecap="round"/>
<text x="481.3" y="424.0" font-size="10.3" text-anchor="start" fill="#000" textLength="81.0" lengthAdjust="spacingAndGlyphs">Unadjusted data</text>
<text x="613.0" y="388.8" font-size="10.3" text-anchor="start" fill="#000" textLength="74.5" lengthAdjust="spacingAndGlyphs">Tracking above</text>
<text x="613.0" y="403.8" font-size="10.3" text-anchor="start" fill="#000" textLength="78.7" lengthAdjust="spacingAndGlyphs">Commonwealth</text>
<text x="613.0" y="418.8" font-size="10.3" text-anchor="start" fill="#000" textLength="87.5" lengthAdjust="spacingAndGlyphs">govt expectations</text>
<line x1="407.50" y1="634.00" x2="407.50" y2="850.00" stroke="#757575" stroke-width="1"/>
<line x1="403.00" y1="633.50" x2="408.00" y2="633.50" stroke="#757575" stroke-width="1"/>
<text x="396.0" y="636.8" font-size="10.5" text-anchor="end" fill="#000">30</text>
<line x1="403.00" y1="661.50" x2="408.00" y2="661.50" stroke="#757575" stroke-width="1"/>
<text x="396.0" y="664.8" font-size="10.5" text-anchor="end" fill="#000">20</text>
<line x1="403.00" y1="689.50" x2="408.00" y2="689.50" stroke="#757575" stroke-width="1"/>
<text x="396.0" y="692.8" font-size="10.5" text-anchor="end" fill="#000">10</text>
<line x1="403.00" y1="718.50" x2="408.00" y2="718.50" stroke="#757575" stroke-width="1"/>
<text x="396.0" y="721.8" font-size="10.5" text-anchor="end" fill="#000">0</text>
<line x1="403.00" y1="746.50" x2="408.00" y2="746.50" stroke="#757575" stroke-width="1"/>
<text x="396.0" y="749.8" font-size="10.5" text-anchor="end" fill="#000">-10</text>
<line x1="403.00" y1="774.50" x2="408.00" y2="774.50" stroke="#757575" stroke-width="1"/>
<text x="396.0" y="777.8" font-size="10.5" text-anchor="end" fill="#000">-20</text>
<line x1="403.00" y1="802.50" x2="408.00" y2="802.50" stroke="#757575" stroke-width="1"/>
<text x="396.0" y="805.8" font-size="10.5" text-anchor="end" fill="#000">-30</text>
<line x1="408.00" y1="718.50" x2="718.00" y2="718.50" stroke="#757575" stroke-width="1"/>
<line x1="433.50" y1="718.00" x2="433.50" y2="723.00" stroke="#757575" stroke-width="1"/>
<line x1="433.50" y1="802.00" x2="433.50" y2="826.00" stroke="#757575" stroke-width="1"/>
<line x1="459.50" y1="718.00" x2="459.50" y2="723.00" stroke="#757575" stroke-width="1"/>
<line x1="459.50" y1="802.00" x2="459.50" y2="826.00" stroke="#757575" stroke-width="1"/>
<line x1="485.50" y1="718.00" x2="485.50" y2="723.00" stroke="#757575" stroke-width="1"/>
<line x1="485.50" y1="802.00" x2="485.50" y2="826.00" stroke="#757575" stroke-width="1"/>
<line x1="510.50" y1="718.00" x2="510.50" y2="723.00" stroke="#757575" stroke-width="1"/>
<line x1="510.50" y1="802.00" x2="510.50" y2="826.00" stroke="#757575" stroke-width="1"/>
<line x1="536.50" y1="718.00" x2="536.50" y2="723.00" stroke="#757575" stroke-width="1"/>
<line x1="536.50" y1="802.00" x2="536.50" y2="826.00" stroke="#757575" stroke-width="1"/>
<line x1="562.50" y1="718.00" x2="562.50" y2="723.00" stroke="#757575" stroke-width="1"/>
<line x1="562.50" y1="802.00" x2="562.50" y2="826.00" stroke="#757575" stroke-width="1"/>
<line x1="588.50" y1="718.00" x2="588.50" y2="723.00" stroke="#757575" stroke-width="1"/>
<line x1="588.50" y1="802.00" x2="588.50" y2="826.00" stroke="#757575" stroke-width="1"/>
<line x1="614.50" y1="718.00" x2="614.50" y2="723.00" stroke="#757575" stroke-width="1"/>
<line x1="614.50" y1="802.00" x2="614.50" y2="826.00" stroke="#757575" stroke-width="1"/>
<line x1="640.50" y1="718.00" x2="640.50" y2="723.00" stroke="#757575" stroke-width="1"/>
<line x1="640.50" y1="802.00" x2="640.50" y2="826.00" stroke="#757575" stroke-width="1"/>
<line x1="666.50" y1="718.00" x2="666.50" y2="723.00" stroke="#757575" stroke-width="1"/>
<line x1="666.50" y1="802.00" x2="666.50" y2="826.00" stroke="#757575" stroke-width="1"/>
<line x1="691.50" y1="718.00" x2="691.50" y2="723.00" stroke="#757575" stroke-width="1"/>
<line x1="691.50" y1="802.00" x2="691.50" y2="826.00" stroke="#757575" stroke-width="1"/>
<line x1="717.50" y1="718.00" x2="717.50" y2="723.00" stroke="#757575" stroke-width="1"/>
<line x1="717.50" y1="802.00" x2="717.50" y2="850.00" stroke="#757575" stroke-width="1"/>
<text x="420.7" y="821.8" font-size="10.3" text-anchor="middle" fill="#000" textLength="14.0" lengthAdjust="spacingAndGlyphs">Jul</text>
<text x="446.6" y="821.8" font-size="10.3" text-anchor="middle" fill="#000" textLength="19.5" lengthAdjust="spacingAndGlyphs">Aug</text>
<text x="472.4" y="821.8" font-size="10.3" text-anchor="middle" fill="#000" textLength="18.5" lengthAdjust="spacingAndGlyphs">Sep</text>
<text x="498.3" y="821.8" font-size="10.3" text-anchor="middle" fill="#000" textLength="17.0" lengthAdjust="spacingAndGlyphs">Oct</text>
<text x="524.1" y="821.8" font-size="10.3" text-anchor="middle" fill="#000" textLength="19.5" lengthAdjust="spacingAndGlyphs">Nov</text>
<text x="550.0" y="821.8" font-size="10.3" text-anchor="middle" fill="#000" textLength="18.5" lengthAdjust="spacingAndGlyphs">Dec</text>
<text x="575.8" y="821.8" font-size="10.3" text-anchor="middle" fill="#000" textLength="16.5" lengthAdjust="spacingAndGlyphs">Jan</text>
<text x="601.7" y="821.8" font-size="10.3" text-anchor="middle" fill="#000" textLength="18.5" lengthAdjust="spacingAndGlyphs">Feb</text>
<text x="627.5" y="821.8" font-size="10.3" text-anchor="middle" fill="#000" textLength="19.5" lengthAdjust="spacingAndGlyphs">Mar</text>
<text x="653.4" y="821.8" font-size="10.3" text-anchor="middle" fill="#000" textLength="18.0" lengthAdjust="spacingAndGlyphs">Apr</text>
<text x="679.2" y="821.8" font-size="10.3" text-anchor="middle" fill="#000" textLength="21.5" lengthAdjust="spacingAndGlyphs">May</text>
<text x="705.1" y="821.8" font-size="10.3" text-anchor="middle" fill="#000" textLength="16.7" lengthAdjust="spacingAndGlyphs">Jun</text>
<text x="562.9" y="845.6" font-size="10.5" text-anchor="middle" fill="#000" textLength="41.0" lengthAdjust="spacingAndGlyphs">2020-21</text>
<text x="403.0" y="590.3" font-size="10.3" text-anchor="start" fill="#000" textLength="179.7" lengthAdjust="spacingAndGlyphs">General government total payments</text>
<text x="403.0" y="605.2" font-size="10.3" text-anchor="start" fill="#000" textLength="266.0" lengthAdjust="spacingAndGlyphs">($b cumulative monthly deviation from government's</text>
<text x="403.0" y="620.5" font-size="10.3" text-anchor="start" fill="#000" textLength="272.0" lengthAdjust="spacingAndGlyphs">forecast run rate to achieve the financial-year forecast)</text>
<polyline points="420.4,702.0 446.3,710.8 472.1,714.4 498.0,729.5 523.8,736.8 549.7,728.7 575.5,742.5 601.4,752.0 627.2,753.2" fill="none" stroke="#2F5597" stroke-width="3.7" stroke-linejoin="round" stroke-linecap="round"/>
<path d="M457.8,667.6 H486.2" fill="none" stroke="#2F5597" stroke-width="4.6" stroke-linecap="round"/>
<text x="490.0" y="671.0" font-size="10.3" text-anchor="start" fill="#000" textLength="81.7" lengthAdjust="spacingAndGlyphs">Unadjusted data</text>
<text x="611.5" y="676.3" font-size="10.3" text-anchor="start" fill="#000" textLength="76.7" lengthAdjust="spacingAndGlyphs">Tracking  below</text>
<text x="611.5" y="691.3" font-size="10.3" text-anchor="start" fill="#000" textLength="78.5" lengthAdjust="spacingAndGlyphs">Commonwealth</text>
<text x="613.8" y="705.8" font-size="10.3" text-anchor="start" fill="#000" textLength="88.0" lengthAdjust="spacingAndGlyphs">govt expectations</text>
<line x1="8.30" y1="850.30" x2="16.70" y2="850.30" stroke="#111" stroke-width="1.2"/>
<line x1="361.30" y1="850.30" x2="377.00" y2="850.30" stroke="#111" stroke-width="1.2"/>
<line x1="369.50" y1="851.00" x2="369.50" y2="852.00" stroke="#111" stroke-width="1"/>
<line x1="722.00" y1="850.30" x2="734.00" y2="850.30" stroke="#111" stroke-width="1.2"/>
<text x="9.3" y="865.7" font-size="10.3" text-anchor="start" fill="#000" textLength="482.5" lengthAdjust="spacingAndGlyphs" style="font-style:italic">Note: Some estimates were smoothed earlier in history. The data were seasonally adjusted by CCI.</text>
<text x="9.3" y="881.3" font-size="10.3" text-anchor="start" fill="#000" textLength="241.3" lengthAdjust="spacingAndGlyphs" style="font-style:italic">Source: Department of Finance, Coolabah Capital</text>
</svg>
</body>
</html>
